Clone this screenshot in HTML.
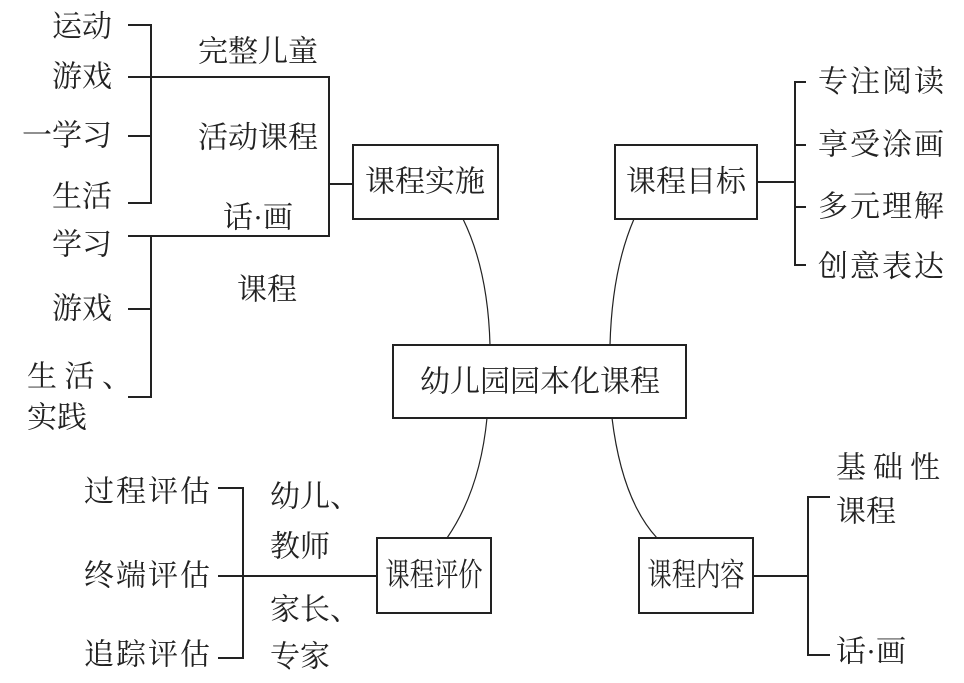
<!DOCTYPE html>
<html><head><meta charset="utf-8"><style>
html,body{margin:0;padding:0;background:#fff;}
svg text{font-family:"Liberation Serif","Noto Serif CJK SC",serif;font-size:30px;fill:#222;dominant-baseline:central;}
</style></head><body>
<svg width="964" height="678" viewBox="0 0 964 678" xmlns="http://www.w3.org/2000/svg">
<g stroke="#222" stroke-width="2" fill="none">
<path d="M128 25H151V203H128M128 136H151M128 77H329V236H128M329 184H353"/>
<path d="M151 236V397H128M128 309H151"/>
<rect x="353" y="145" width="145" height="74"/>
<rect x="393" y="345" width="293" height="73"/>
<rect x="615" y="145" width="142" height="74"/>
<path d="M757 182H795M806 82H795V265H806M795 145H806M795 207H806"/>
<rect x="377" y="538" width="114" height="75"/>
<rect x="639" y="538" width="114" height="75"/>
<path d="M218 488H243V658H218M218 576H377"/>
<path d="M753 576H808M830 497H808V655H830"/>
</g>
<g stroke="#222" stroke-width="1.2" fill="none">
<path d="M463 219Q488 270 490 345"/>
<path d="M634 219Q612 270 610 345"/>
<path d="M487 418Q480 490 447 538"/>
<path d="M612 418Q622 500 657 538"/>
</g>
<text x="112" y="27" text-anchor="end">运动</text>
<text x="112" y="77" text-anchor="end">游戏</text>
<text x="112" y="136" text-anchor="end">一学习</text>
<text x="112" y="197" text-anchor="end">生活</text>
<text x="112" y="245" text-anchor="end">学习</text>
<text x="112" y="309" text-anchor="end">游戏</text>
<text x="27" y="377">生 活 、</text>
<text x="27" y="418">实践</text>
<text x="258" y="52" text-anchor="middle">完整儿童</text>
<text x="258" y="138" text-anchor="middle">活动课程</text>
<text x="258" y="218" text-anchor="middle">话·画</text>
<text x="267" y="290" text-anchor="middle">课程</text>
<text x="425" y="182" text-anchor="middle">课程实施</text>
<text x="540" y="382" text-anchor="middle">幼儿园园本化课程</text>
<text x="686" y="182" text-anchor="middle">课程目标</text>
<text x="818" y="82" textLength="126">专注阅读</text>
<text x="818" y="145" textLength="126">享受涂画</text>
<text x="818" y="207" textLength="126">多元理解</text>
<text x="818" y="267" textLength="126">创意表达</text>
<text x="84" y="492" textLength="126">过程评估</text>
<text x="84" y="576" textLength="126">终端评估</text>
<text x="84" y="655" textLength="126">追踪评估</text>
<text x="270" y="497">幼儿、</text>
<text x="270" y="547">教师</text>
<text x="270" y="610">家长、</text>
<text x="270" y="657">专家</text>
<text transform="translate(434,576) scale(0.76,1)" text-anchor="middle" style="font-size:32px">课程评价</text>
<text transform="translate(696,576) scale(0.76,1)" text-anchor="middle" style="font-size:32px">课程内容</text>
<text x="836" y="468" textLength="104">基础性</text>
<text x="836" y="512">课程</text>
<text x="836" y="652">话·画</text>
</svg>
</body></html>
